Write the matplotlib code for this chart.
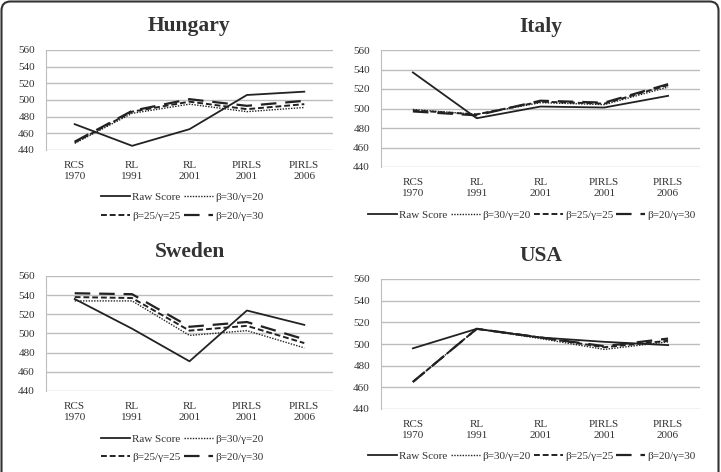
import matplotlib
matplotlib.use("Agg")
import matplotlib.pyplot as plt
import matplotlib.patches as mpatches
from matplotlib.transforms import IdentityTransform

plt.rcParams['font.family'] = ['Liberation Serif', 'DejaVu Serif']

W, H = 721, 472

categories = ["RCS\n1970", "RL\n1991", "RL\n2001", "PIRLS\n2001", "PIRLS\n2006"]
series_names = ["Raw Score", "β=30/γ=20", "β=25/γ=25", "β=20/γ=30"]

hungary_raw = [471, 445, 465, 506, 510]
hungary_b30 = [448, 484, 495, 486, 491]
hungary_b25 = [449, 486, 498, 489, 495]
hungary_b20 = [450, 487, 501, 493, 499]

italy_raw = [537, 490, 502, 501, 513]
italy_b30 = [499, 494, 506, 504, 522]
italy_b25 = [498, 494, 507, 505, 524]
italy_b20 = [497, 493, 508, 506, 525]

sweden_raw = [536, 505, 471, 524, 509]
sweden_b30 = [534, 534, 498, 503, 485]
sweden_b25 = [538, 537, 503, 508, 490]
sweden_b20 = [542, 541, 507, 512, 494]

usa_raw = [496, 514, 506, 502, 499]
usa_b30 = [465, 514, 505, 495, 502]
usa_b25 = [465, 514, 506, 497, 503]
usa_b20 = [465, 514, 506, 498, 505]

styles = [
    dict(linestyle='-', linewidth=1.3),
    dict(linestyle=(0, (1, 1)), linewidth=1.0),
    dict(linestyle=(0, (3, 1.5)), linewidth=1.4),
    dict(linestyle=(0, (7, 4)), linewidth=1.6),
]

# panel: title, data, axes box in pixels (left, top, right, bottom), title y, legend rows
panels = [
    ("Hungary", [hungary_raw, hungary_b30, hungary_b25, hungary_b20], (46, 50, 333, 150), 26, [(182, 197), (182, 216)]),
    ("Italy", [italy_raw, italy_b30, italy_b25, italy_b20], (381, 50, 700, 167), 27, [(532, 215)]),
    ("Sweden", [sweden_raw, sweden_b30, sweden_b25, sweden_b20], (46, 276, 333, 391), 252, [(182, 439), (182, 457)]),
    ("USA", [usa_raw, usa_b30, usa_b25, usa_b20], (381, 279, 700, 409), 256, [(532, 456)]),
]

fig = plt.figure(figsize=(W / 100, H / 100), dpi=100)

ink = '#222222'
for title, data, (l, t, r, b), ty, legrows in panels:
    ax = fig.add_axes([l / W, 1 - b / H, (r - l) / W, (b - t) / H])
    x = list(range(len(categories)))
    handles = []
    for vals, name, st in zip(data, series_names, styles):
        h, = ax.plot(x, vals, color=ink, label=name, **st)
        handles.append(h)
    ax.set_xlim(-0.5, 4.5)
    ax.set_ylim(440, 560)
    ax.set_yticks(range(440, 561, 20))
    ax.set_xticks(x)
    ax.set_xticklabels(categories)
    ax.grid(axis='y', color='#bdbdbd', linewidth=1.0)
    ax.set_axisbelow(True)
    for s in ['top', 'right', 'bottom']:
        ax.spines[s].set_visible(False)
    ax.spines['left'].set_color('#bdbdbd')
    ax.tick_params(length=0, labelsize=8, colors='#333333', pad=8)
    fig.text((l + r) / 2 / W, 1 - ty / H, title, ha='center', va='center',
             fontsize=15.5, fontweight='bold', color='#333333')

    if len(legrows) == 1:
        groups = [handles]
    else:
        groups = [handles[:2], handles[2:]]
    for grp, (lx, ly) in zip(groups, legrows):
        fig.legend(handles=grp, loc='center', bbox_to_anchor=(lx / W, 1 - ly / H),
                   ncol=len(grp), frameon=False, fontsize=8, handlelength=2.6,
                   handletextpad=0.2, columnspacing=0.3, borderaxespad=0,
                   borderpad=0, labelcolor='#333333')

border = mpatches.FancyBboxPatch((1.5, -30), 717, 470.5 + 30,
                                 boxstyle="round,pad=0,rounding_size=9",
                                 transform=IdentityTransform(), fill=False,
                                 edgecolor='#333333', linewidth=1.5)
fig.patches.append(border)

fig.savefig("out.png", dpi=100)
